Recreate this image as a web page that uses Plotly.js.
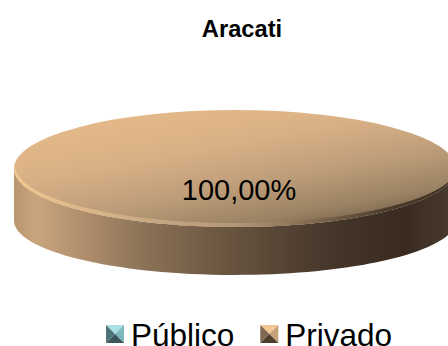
<!DOCTYPE html>
<html><head><meta charset="utf-8">
<script src="https://cdn.plot.ly/plotly-3.0.1.min.js"></script>
<style>html,body{margin:0;padding:0;background:#fff;overflow:hidden}#c{width:448px;height:346px}</style>
</head><body><div id="c"></div>
<script>
var categories = ["Público", "Privado"];
var values = [0, 100];
var chartTitle = "Aracati";
var sliceColors = ["#7fb4b8", "#c8a27a"];

var W = 448, H = 346, cx = 235, cy = 168.5, rx = 221, ry = 58.5, R = 100, depth = 52;
function px(x){return (x/W).toFixed(5);} function py(y){return (1-y/H).toFixed(5);}
function pt(x,y){return px(x)+","+py(y);}
function halfBottom(c, r, ryy){
  var k=.5523;
  return "C"+pt(cx-r,c+ryy*k)+" "+pt(cx-r*k,c+ryy)+" "+pt(cx,c+ryy)+
         "C"+pt(cx+r*k,c+ryy)+" "+pt(cx+r,c+ryy*k)+" "+pt(cx+r,c);
}
function halfBottomRev(c, r, ryy){
  var k=.5523;
  return "C"+pt(cx+r,c+ryy*k)+" "+pt(cx+r*k,c+ryy)+" "+pt(cx,c+ryy)+
         "C"+pt(cx-r*k,c+ryy)+" "+pt(cx-r,c+ryy*k)+" "+pt(cx-r,c);
}
var sidePath = "M"+pt(cx-rx,cy)+"L"+pt(cx-rx,cy+depth)+halfBottom(cy+depth,rx,ry-4)+"L"+pt(cx+rx,cy)+halfBottomRev(cy,rx,ry)+"Z";
var rimPath = "M"+pt(cx-rx,cy)+halfBottom(cy,rx,ry)+halfBottomRev(cy-3,rx-1,ry-1)+"L"+pt(cx-rx,cy)+"Z";
var shadePath = "M"+pt(cx-rx,cy)+halfBottom(cy,rx,ry)+halfBottomRev(cy,rx,-ry)+"Z";

var data = [{
  type:"pie", labels:categories, values:values, sort:false, direction:"clockwise",
  marker:{colors:sliceColors, line:{width:0}},
  textinfo:"percent", texttemplate:"%{percent:.2%}", textposition:"inside",
  insidetextorientation:"horizontal",
  textfont:{family:"Liberation Sans",size:29,color:"#000"},
  hoverinfo:"none",
  domain:{x:[(cx-R)/W,(cx+R)/W], y:[1-(cy+R)/H,1-(cy-R)/H]}
}];
var layout = {
  width:W, height:H, separators:",.", paper_bgcolor:"#fff",
  margin:{l:0,r:0,t:0,b:0,autoexpand:false},
  title:{text:"<b>"+chartTitle+"</b>", font:{family:"Liberation Sans",size:23.7,color:"#000"},
         x:242/W, xanchor:"center", y:1-29/H, yanchor:"middle"},
  legend:{orientation:"h", x:91/W, xanchor:"left", y:0, yanchor:"bottom",
          font:{family:"Liberation Sans",size:31.5,color:"#000"}, bgcolor:"rgba(0,0,0,0)", traceorder:"normal"},
  shapes:[
    {type:"path", xref:"paper", yref:"paper", path:sidePath, layer:"below", fillcolor:"#8a7156", line:{width:0}},
    {type:"path", xref:"paper", yref:"paper", path:shadePath, layer:"above", fillcolor:"rgba(0,0,0,0)", line:{width:0}},
    {type:"path", xref:"paper", yref:"paper", path:rimPath, layer:"above", fillcolor:"#c8a27a", line:{width:0}}
  ]
};
function linGrad(id,x1,y1,x2,y2,stops){
  var s='<linearGradient id="'+id+'" x1="'+x1+'" y1="'+y1+'" x2="'+x2+'" y2="'+y2+'">';
  stops.forEach(function(p){s+='<stop offset="'+p[0]+'" stop-color="'+p[1]+'"'+(p[2]!==undefined?' stop-opacity="'+p[2]+'"':'')+'/>';});
  return s+'</linearGradient>';
}
Plotly.newPlot("c",data,layout,{displayModeBar:false,staticPlot:true}).then(function(){
  var gd=document.getElementById("c"), svg=gd.querySelector("svg.main-svg");
  var defs=svg.querySelector("defs");
  var NS="http://www.w3.org/2000/svg";
  var tmp=document.createElementNS(NS,"svg");
  tmp.innerHTML=
    linGrad("gSide",0,0,1,0,[[0,"#b8966f"],[.05,"#c8a57d"],[.14,"#b49270"],[.3,"#8a7156"],[.5,"#66523e"],[.72,"#45362a"],[.88,"#392b20"],[1,"#4a3b2e"]])+
    linGrad("gTop",0.12,0.05,0.78,1,[[0,"#e6bb8a"],[.35,"#d9b086"],[.62,"#bd9d79"],[.85,"#9a8263"],[1,"#6f5c47"]])+
    linGrad("gShade",0,0,1,0,[[0,"#000",0],[.72,"#2a2018",0],[.9,"#2a2018",.22],[1,"#2a2018",.55]])+
    linGrad("gRim",0,0,1,0,[[0,"#f0c890"],[.12,"#e3bb8c"],[.3,"#c9a882"],[.5,"#b39878"],[.65,"#8a7055"],[.85,"#4a3a2a"],[1,"#3d2f22"]]);
  while(tmp.firstChild) defs.appendChild(tmp.firstChild);

  gd.querySelectorAll(".pielayer .slice").forEach(function(sl){
    var p=sl.querySelector("path.surface");
    if(p && p.getAttribute("d")){
      p.setAttribute("transform","translate("+cx+","+cy+") scale("+(rx/R)+","+(ry/R)+") translate("+(-cx)+","+(-cy)+")");
      p.style.fill="url(#gTop)";
    }
    var t=sl.querySelector("text.slicetext");
    if(t){ t.setAttribute("transform","translate(4,21) "+(t.getAttribute("transform")||"")); }
  });
  var sh=gd.querySelectorAll(".shapelayer path");
  if(sh[0]) sh[0].style.fill="url(#gSide)";
  if(sh[1]) sh[1].style.fill="url(#gShade)";
  if(sh[2]) sh[2].style.fill="url(#gRim)";

  var pals=[["#a9e0e2","#3b5558","#7fb8bc","#4d7478"],["#f3c795","#4d3c2c","#c6a078","#7f6750"]];
  var leg=gd.querySelector(".legend");
  var m=/translate\(([-\d.]+),\s*([-\d.]+)\)/.exec(leg.getAttribute("transform")||"");
  gd.querySelectorAll(".legend .traces").forEach(function(tr,i){
    var lp=tr.querySelector(".legendpoints"); if(!lp) return;
    while(lp.firstChild) lp.removeChild(lp.firstChild);
    var g=document.createElementNS(NS,"g"); g.setAttribute("transform","translate(24,0)");
    var s=9, pal=pals[i];
    [["M"+(-s)+","+(-s)+"L"+s+","+(-s)+"L0,0Z",pal[0]],
     ["M"+s+","+(-s)+"L"+s+","+s+"L0,0Z",pal[2]],
     ["M"+s+","+s+"L"+(-s)+","+s+"L0,0Z",pal[1]],
     ["M"+(-s)+","+s+"L"+(-s)+","+(-s)+"L0,0Z",pal[3]]].forEach(function(a){
       var p=document.createElementNS(NS,"path"); p.setAttribute("d",a[0]); p.setAttribute("fill",a[1]); g.appendChild(p);
     });
    lp.appendChild(g);
    if(i===1){
      var tm=/translate\(([-\d.]+),\s*([-\d.]+)\)/.exec(tr.getAttribute("transform")||"");
      if(tm) tr.setAttribute("transform","translate("+(parseFloat(tm[1])+6)+","+tm[2]+")");
    }
  });
  if(m) leg.setAttribute("transform","translate("+m[1]+","+(parseFloat(m[2])+15)+")");
  gd.querySelectorAll(".legend [clip-path]").forEach(function(e){e.removeAttribute("clip-path");});
});
</script></body></html>
